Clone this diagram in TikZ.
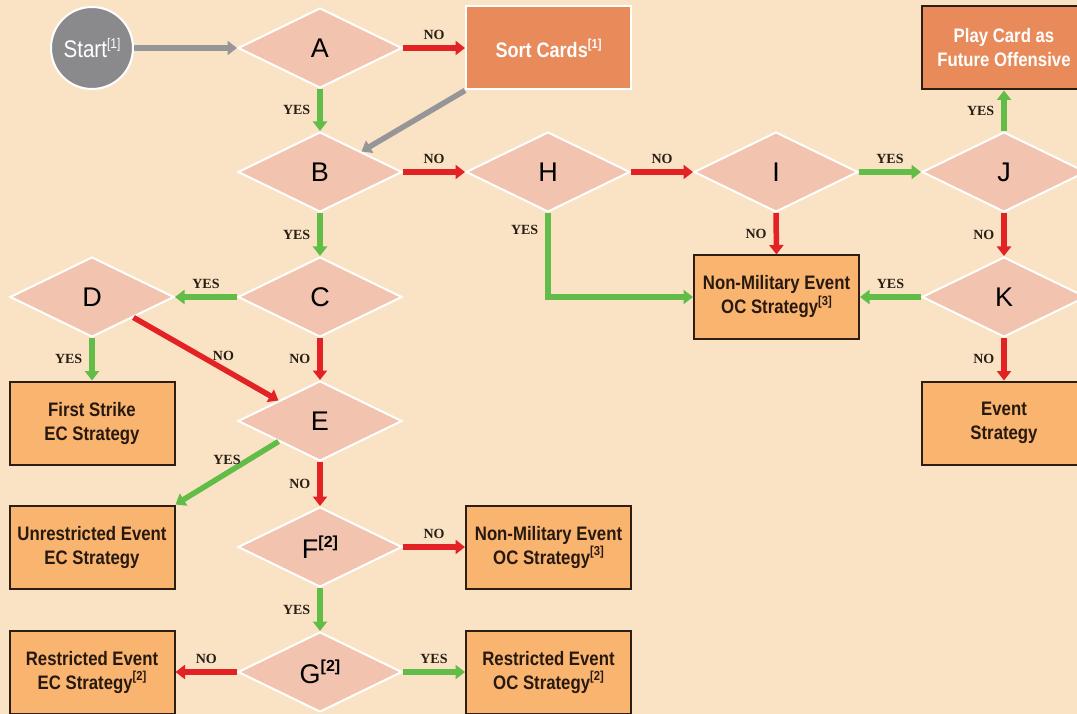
\documentclass[tikz,border=0pt]{standalone}
\usepackage{fontspec}
\setmainfont{Liberation Sans}
\newfontfamily\boxfont[FakeStretch=0.86]{Liberation Sans}
\newfontfamily\lblfont{Liberation Serif}
\usetikzlibrary{shapes.geometric,arrows.meta}

\definecolor{bg}{RGB}{250,227,197}
\definecolor{dfill}{RGB}{242,195,174}
\definecolor{bfill}{RGB}{249,180,112}
\definecolor{sfill}{RGB}{232,138,90}
\definecolor{gfill}{RGB}{138,138,140}
\definecolor{ared}{RGB}{226,34,37}
\definecolor{agreen}{RGB}{98,188,72}
\definecolor{agray}{RGB}{150,150,152}
\definecolor{bline}{RGB}{45,30,20}
\definecolor{btext}{RGB}{40,25,15}
\definecolor{ltext}{RGB}{40,30,20}

% footnote markers: box text and diamond labels
\newcommand{\fnref}[1]{\raisebox{0.42em}{\fontsize{13}{13}\selectfont[#1]}}
\newcommand{\dref}[1]{\raisebox{0.42em}{\fontsize{16}{16}\selectfont\bfseries[#1]}}

\begin{document}
\begin{tikzpicture}[x=1pt,y=-1pt,
  dec/.style={diamond, fill=dfill, draw=white, line width=2pt,
    minimum width=164pt, minimum height=80pt, inner sep=0pt, shape aspect=2,
    font=\fontsize{27}{27}\selectfont},
  box/.style={rectangle, fill=bfill, draw=bline, line width=2pt,
    minimum width=165pt, minimum height=83pt, align=center, text=btext,
    font=\boxfont\bfseries\fontsize{19.5}{24}\selectfont},
  hotbox/.style={box, fill=sfill, text=white},
  startc/.style={circle, fill=gfill, draw=white, line width=2pt,
    minimum size=82pt, inner sep=0pt, text=white,
    font=\boxfont\fontsize{24}{24}\selectfont},
  arr/.style={line width=5.5pt, -{Triangle[length=9.5pt,width=14pt]}},
  yes/.style={arr, draw=agreen},
  no/.style={arr, draw=ared},
  go/.style={arr, draw=agray},
  lbl/.style={font=\lblfont\bfseries\fontsize{14}{14}\selectfont, text=ltext, inner sep=2pt}]

\useasboundingbox (0,0) rectangle (1077,714);
\clip (0,0) rectangle (1077,714);
\fill[bg] (0,0) rectangle (1077,714);

% decision diamonds
\node[dec] (A) at (320,48) {A};
\node[dec] (B) at (320,172) {B};
\node[dec] (C) at (320,297) {C};
\node[dec] (D) at (92,297) {D};
\node[dec] (E) at (320,421) {E};
\node[dec] (F) at (320,547) {F\dref{2}};
\node[dec] (G) at (320,672) {G\dref{2}};
\node[dec] (H) at (548,172) {H};
\node[dec] (I) at (776,172) {I};
\node[dec] (J) at (1004,172) {J};
\node[dec] (K) at (1004,297) {K};

% start and outcome boxes
\node[startc] (st) at (92,48) {Start\raisebox{0.4em}{\fontsize{14}{14}\selectfont[1]}};
\node[hotbox, draw=white, font=\boxfont\bfseries\fontsize{21}{24}\selectfont] (sort) at (548.5,48) {Sort Cards\fnref{1}};
\node[hotbox] (play) at (1004,48) {Play Card as\\Future Offensive};
\node[box] (nm1) at (776.5,297) {Non-Military Event\\OC Strategy\fnref{3}};
\node[box] (fs) at (92,423) {First Strike\\EC Strategy};
\node[box] (ev) at (1004,423) {Event\\Strategy};
\node[box] (ue) at (92,547) {Unrestricted Event\\EC Strategy};
\node[box] (nm2) at (548.5,547) {Non-Military Event\\OC Strategy\fnref{3}};
\node[box] (rec) at (92,672) {Restricted Event\\EC Strategy\fnref{2}};
\node[box] (roc) at (548.5,672) {Restricted Event\\OC Strategy\fnref{2}};

% connectors
\draw[go] (st.east) -- (A.west);
\draw[no] (A.east) -- (sort.west) node[lbl, midway, above=4pt] {NO};
\draw[yes] (A.south) -- (B.north) node[lbl, midway, left=5pt] {YES};
\draw[go] (sort.south west) -- (B.north east);
\draw[no] (B.east) -- (H.west) node[lbl, midway, above=4pt] {NO};
\draw[no] (H.east) -- (I.west) node[lbl, midway, above=4pt] {NO};
\draw[yes] (I.east) -- (J.west) node[lbl, midway, above=4pt] {YES};
\draw[yes] (J.north) -- (play.south) node[lbl, midway, left=5pt] {YES};
\draw[no] (J.south) -- (K.north) node[lbl, midway, left=5pt] {NO};
\draw[no] (I.south) -- (nm1.north) node[lbl, midway, left=5pt] {NO};
\draw[yes] (H.south) |- (nm1.west) node[lbl, pos=0.1, left=5pt] {YES};
\draw[yes] (K.west) -- (nm1.east) node[lbl, midway, above=4pt] {YES};
\draw[no] (K.south) -- (ev.north) node[lbl, midway, left=5pt] {NO};
\draw[yes] (B.south) -- (C.north) node[lbl, midway, left=5pt] {YES};
\draw[yes] (C.west) -- (D.east) node[lbl, midway, above=4pt] {YES};
\draw[yes] (D.south) -- (fs.north) node[lbl, midway, left=5pt] {YES};
\draw[no] (D.south east) -- (E.north west) node[lbl, pos=0.62, above=4pt] {NO};
\draw[no] (C.south) -- (E.north) node[lbl, midway, left=5pt] {NO};
\draw[yes] (E.south west) -- (ue.north east) node[lbl, midway, above=4pt] {YES};
\draw[no] (E.south) -- (F.north) node[lbl, midway, left=5pt] {NO};
\draw[no] (F.east) -- (nm2.west) node[lbl, midway, above=4pt] {NO};
\draw[yes] (F.south) -- (G.north) node[lbl, midway, left=5pt] {YES};
\draw[no] (G.west) -- (rec.east) node[lbl, midway, above=4pt] {NO};
\draw[yes] (G.east) -- (roc.west) node[lbl, midway, above=4pt] {YES};
\end{tikzpicture}
\end{document}
